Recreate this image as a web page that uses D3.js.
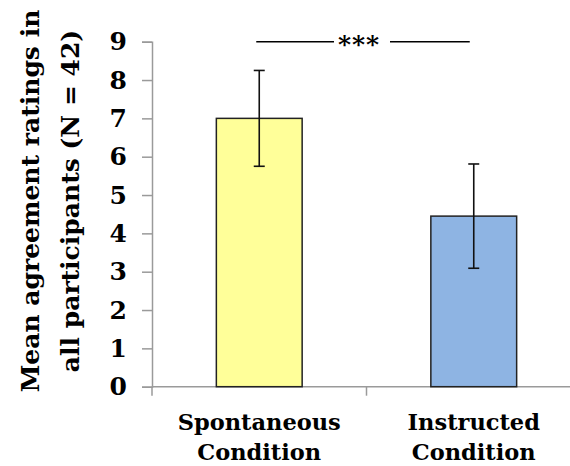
<!DOCTYPE html>
<html>
<head>
<meta charset="utf-8">
<script src="https://cdn.jsdelivr.net/npm/d3@7"></script>
<style>
  html, body { margin: 0; padding: 0; background: #fff; }
  svg { display: block; }
  text { font-family: "DejaVu Serif", "Liberation Serif", serif; font-weight: bold; fill: #000; }
</style>
</head>
<body>
<svg id="chart" width="570" height="466"></svg>
<script>
// Bar chart with SD error bars and significance bracket
const categories = [['Spontaneous', 'Condition'], ['Instructed', 'Condition']];
const means = [7.0, 4.45];
const errors = [1.25, 1.36];
const barColors = ['#FFFF99', '#8EB4E3'];
const yTicks = [0, 1, 2, 3, 4, 5, 6, 7, 8, 9];
const yTitle = ['Mean agreement ratings in', 'all participants (N = 42)'];
const sigLabel = '***';
const sigLevel = 9;

const svg = d3.select('#chart');
const x0 = 152, x1 = 581, yTop = 41.7, yBot = 386.7;

const x = d3.scaleBand()
  .domain(d3.range(categories.length))
  .range([x0, x1])
  .paddingInner(0)
  .paddingOuter(0);

const y = d3.scaleLinear().domain([0, 9]).range([yBot, yTop]);

const axisColor = '#9a9a9a';

// y axis
const yAxis = svg.append('g').attr('transform', `translate(${x0},0)`)
  .call(d3.axisLeft(y).tickValues(yTicks).tickSize(10).tickPadding(15).tickFormat(d3.format('d')));
yAxis.select('.domain').attr('stroke', axisColor).attr('stroke-width', 1.5);
yAxis.selectAll('.tick line').attr('stroke', axisColor).attr('stroke-width', 1.5);
yAxis.selectAll('.tick text')
  .attr('font-size', 25)
  .attr('font-family', '"DejaVu Serif", serif')
  .attr('font-weight', 'bold')
  .attr('fill', '#000');

// x axis
const xAxis = svg.append('g').attr('transform', `translate(0,${yBot})`);
xAxis.append('line')
  .attr('x1', x0).attr('x2', x1)
  .attr('stroke', axisColor).attr('stroke-width', 1.5);
xAxis.selectAll('line.tk')
  .data(d3.range(categories.length + 1))
  .enter().append('line')
  .attr('class', 'tk')
  .attr('x1', i => x0 + i * x.bandwidth())
  .attr('x2', i => x0 + i * x.bandwidth())
  .attr('y1', 0).attr('y2', 9)
  .attr('stroke', axisColor).attr('stroke-width', 1.5);

// bars
const barW = x.bandwidth() * 0.4;
svg.append('g').selectAll('rect')
  .data(means)
  .enter().append('rect')
  .attr('x', (d, i) => x(i) + (x.bandwidth() - barW) / 2)
  .attr('y', d => y(d))
  .attr('width', barW)
  .attr('height', d => y(0) - y(d))
  .attr('fill', (d, i) => barColors[i])
  .attr('stroke', '#222')
  .attr('stroke-width', 1.5);

// error bars
const eb = svg.append('g').attr('stroke', '#111').attr('stroke-width', 1.6);
means.forEach((m, i) => {
  const cx = x(i) + x.bandwidth() / 2;
  eb.append('line').attr('x1', cx).attr('x2', cx).attr('y1', y(m + errors[i])).attr('y2', y(m - errors[i]));
  [m + errors[i], m - errors[i]].forEach(v => {
    eb.append('line').attr('x1', cx - 5.5).attr('x2', cx + 5.5).attr('y1', y(v)).attr('y2', y(v));
  });
});

// x labels
categories.forEach((lines, i) => {
  const cx = x(i) + x.bandwidth() / 2;
  const t = svg.append('text')
    .attr('x', cx).attr('y', 430)
    .attr('text-anchor', 'middle')
    .attr('font-size', 22.5);
  lines.forEach((s, k) => {
    t.append('tspan').attr('x', cx).attr('dy', k === 0 ? 0 : 30).text(s);
  });
});

// y title
const yt = svg.append('text')
  .attr('transform', 'translate(0,201) rotate(-90)')
  .attr('text-anchor', 'middle')
  .attr('font-size', 25);
yTitle.forEach((s, k) => {
  yt.append('tspan').attr('x', 0).attr('y', k === 0 ? 39 : 79).text(s);
});

// significance bracket
const sy = y(sigLevel);
const c0 = x(0) + x.bandwidth() / 2, c1 = x(1) + x.bandwidth() / 2;
const sg = svg.append('g');
sg.append('line').attr('x1', c0 - 3).attr('x2', 334).attr('y1', sy).attr('y2', sy)
  .attr('stroke', '#000').attr('stroke-width', 1.5);
sg.append('line').attr('x1', 390).attr('x2', c1 - 4).attr('y1', sy).attr('y2', sy)
  .attr('stroke', '#000').attr('stroke-width', 1.5);
sg.append('text')
  .attr('x', 359).attr('y', sy + 11)
  .attr('text-anchor', 'middle')
  .attr('font-size', 25)
  .attr('letter-spacing', 1)
  .text(sigLabel);
</script>
</body>
</html>
